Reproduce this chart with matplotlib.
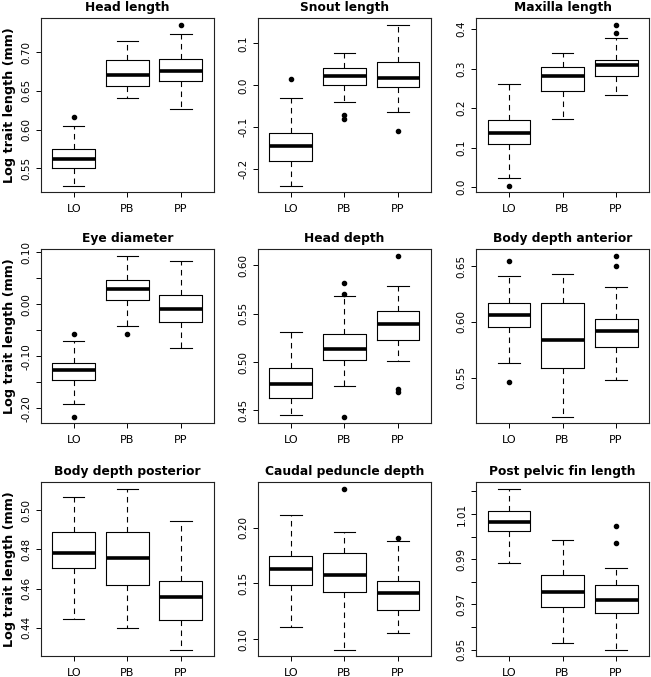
import numpy as np
import matplotlib
matplotlib.use("Agg")
import matplotlib.pyplot as plt

# panel titles and groups
titles = ["Head length", "Snout length", "Maxilla length",
          "Eye diameter", "Head depth", "Body depth anterior",
          "Body depth posterior", "Caudal peduncle depth", "Post pelvic fin length"]
groups = ["LO", "PB", "PP"]

# box summaries (one row per panel, columns LO / PB / PP)
whislo = [[0.5276, 0.6414, 0.6272],
          [-0.2397, -0.0389, -0.0643],
          [0.0245, 0.1713, 0.2329],
          [-0.1910, -0.0422, -0.0838],
          [0.4455, 0.4752, 0.5014],
          [0.5633, 0.5148, 0.5482],
          [0.4444, 0.4398, 0.4288],
          [0.1105, 0.0904, 0.1057],
          [0.9883, 0.9528, 0.9499]]
q1 = [[0.5504, 0.6569, 0.6629],
      [-0.1802, 0.0000, -0.0048],
      [0.1089, 0.2439, 0.2802],
      [-0.1458, 0.0083, -0.0333],
      [0.4631, 0.5021, 0.5231],
      [0.5952, 0.5590, 0.5771],
      [0.4704, 0.4617, 0.4439],
      [0.1488, 0.1425, 0.1261],
      [1.0023, 0.9687, 0.9664]]
med = [[0.5625, 0.6711, 0.6754],
       [-0.1437, 0.0222, 0.0167],
       [0.1359, 0.2802, 0.3097],
       [-0.1260, 0.0294, -0.0083],
       [0.4769, 0.5138, 0.5397],
       [0.6063, 0.5834, 0.5919],
       [0.4783, 0.4757, 0.4555],
       [0.1629, 0.1572, 0.1414],
       [1.0066, 0.9755, 0.9718]]
q3 = [[0.5746, 0.6901, 0.6909],
      [-0.1135, 0.0413, 0.0548],
      [0.1696, 0.3038, 0.3224],
      [-0.1133, 0.0467, 0.0179],
      [0.4941, 0.5286, 0.5531],
      [0.6172, 0.6172, 0.6027],
      [0.4890, 0.4890, 0.4641],
      [0.1742, 0.1770, 0.1521],
      [1.0113, 0.9832, 0.9785]]
whishi = [[0.6048, 0.7138, 0.7233],
          [-0.0294, 0.0778, 0.1444],
          [0.2616, 0.3384, 0.3764],
          [-0.0704, 0.0936, 0.0834],
          [0.5314, 0.5679, 0.5790],
          [0.6407, 0.6431, 0.6313],
          [0.5068, 0.5109, 0.4944],
          [0.2117, 0.1958, 0.1878],
          [1.0212, 0.9984, 0.9860]]
fliers = [[[0.6168], [], [0.7353]],
          [[0.0151], [-0.0714, -0.0810], [-0.1095]],
          [[0.0034], [], [0.3899, 0.4110]],
          [[-0.0576, -0.2166], [-0.0576], []],
          [[], [0.5707, 0.5817, 0.4434], [0.6100, 0.4717, 0.4693]],
          [[0.6548, 0.5458], [], [0.6497, 0.6593]],
          [[], [], []],
          [[], [0.2348], [0.1908]],
          [[], [], [0.9973, 1.0048]]]

# y ticks and their labels per panel
yticks = [[0.55, 0.60, 0.65, 0.70],
          [-0.2, -0.1, 0.0, 0.1],
          [0.0, 0.1, 0.2, 0.3, 0.4],
          [-0.20, -0.15, -0.10, -0.05, 0.00, 0.05, 0.10],
          [0.45, 0.50, 0.55, 0.60],
          [0.55, 0.60, 0.65],
          [0.44, 0.46, 0.48, 0.50],
          [0.10, 0.15, 0.20],
          [0.95, 0.96, 0.97, 0.98, 0.99, 1.00, 1.01, 1.02]]
ytick_labels = [["0.55", "0.60", "0.65", "0.70"],
                ["-0.2", "-0.1", "0.0", "0.1"],
                ["0.0", "0.1", "0.2", "0.3", "0.4"],
                ["-0.20", "", "-0.10", "", "0.00", "", "0.10"],
                ["0.45", "0.50", "0.55", "0.60"],
                ["0.55", "0.60", "0.65"],
                ["0.44", "0.46", "0.48", "0.50"],
                ["0.10", "0.15", "0.20"],
                ["0.95", "", "0.97", "", "0.99", "", "1.01", ""]]

W, H = 651, 677
fig = plt.figure(figsize=(W / 100, H / 100), dpi=100)

lefts = [40.5, 257.7, 475.8]
tops = [18.3, 249.3, 482.3]
aw, ah = 173.5, 174

for i, title in enumerate(titles):
    r, c = divmod(i, 3)
    ax = fig.add_axes([lefts[c] / W, 1 - (tops[r] + ah) / H, aw / W, ah / H])

    stats = []
    for g in range(3):
        stats.append(dict(med=med[i][g], q1=q1[i][g], q3=q3[i][g],
                          whislo=whislo[i][g], whishi=whishi[i][g],
                          fliers=fliers[i][g]))
    ax.bxp(stats, positions=[1, 2, 3], widths=0.8, capwidths=0.4,
           boxprops=dict(color="black", linewidth=0.8),
           whiskerprops=dict(color="black", linewidth=0.8, linestyle=(0, (5, 4))),
           capprops=dict(color="black", linewidth=0.8),
           medianprops=dict(color="black", linewidth=2.6, solid_capstyle="butt"),
           flierprops=dict(marker="o", markersize=3, markerfacecolor="black",
                           markeredgecolor="black"))

    # R style limits: data range padded by 4%
    allv = [v for g in range(3) for v in
            [whislo[i][g], whishi[i][g]] + fliers[i][g]]
    lo, hi = min(allv), max(allv)
    pad = (hi - lo) * 0.04
    ax.set_ylim(lo - pad, hi + pad)
    ax.set_xlim(0.38, 3.62)

    ax.set_yticks(yticks[i])
    ax.set_yticklabels(ytick_labels[i], rotation=90, va="center", fontsize=7.5)
    ax.set_xticks([1, 2, 3])
    ax.set_xticklabels(groups, fontsize=8)
    ax.tick_params(axis="both", direction="out", length=3.5, width=0.7, colors="black")
    ax.tick_params(axis="x", pad=5)
    ax.tick_params(axis="y", pad=3)
    for s in ax.spines.values():
        s.set_linewidth(0.8)
        s.set_color("#222222")

    ax.set_title(title, fontsize=8.8, fontweight="bold", pad=5)
    if c == 0:
        ax.set_ylabel("Log trait length (mm)", fontsize=9.2, fontweight="bold", labelpad=4)

fig.savefig("out.png", dpi=100)
